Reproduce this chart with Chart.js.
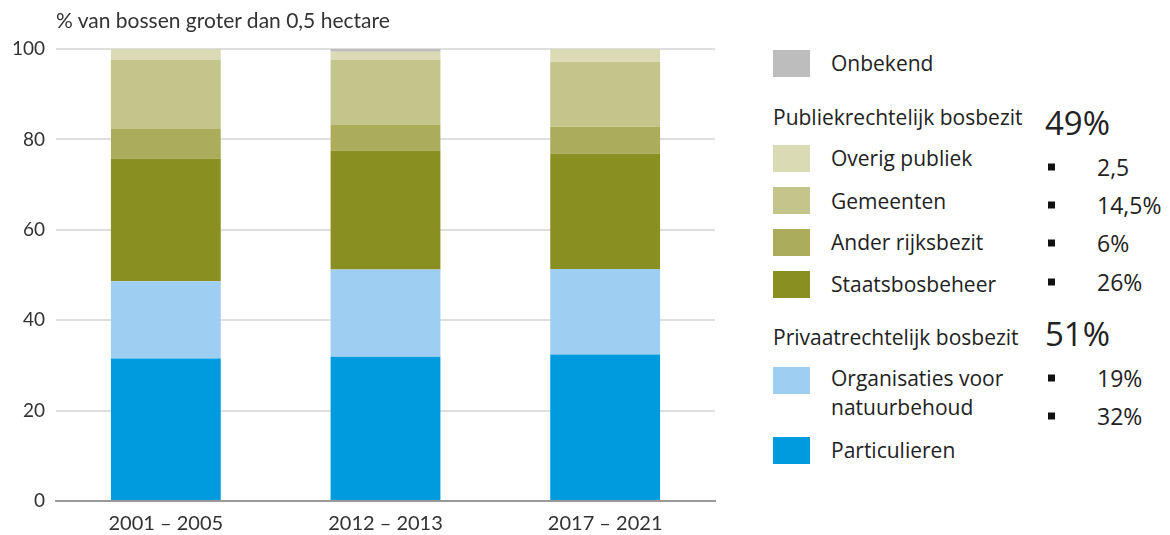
<!DOCTYPE html>
<html lang="nl">
<head>
<meta charset="utf-8">
<title>Bosbezit naar eigenaar</title>
<script src="https://cdn.jsdelivr.net/npm/chart.js@4.4.0/dist/chart.umd.min.js"></script>
<style>
  body { margin: 0; background: #fff; }
  #wrap { position: relative; width: 1170px; height: 535px; color: #222; font-family: "Open Sans", sans-serif; }
  #chartBox { position: absolute; left: 0; top: 0; width: 730px; height: 535px; }
  #titel { position: absolute; left: 56px; top: 19px; transform: translateY(-50%); font-family: Lato, sans-serif; font-size: 21px; color: #333; white-space: nowrap; }
  .sw { position: absolute; left: 773px; width: 37px; height: 27px; }
  .t { position: absolute; transform: translateY(-50%); font-size: 21px; line-height: 29px; white-space: nowrap; }
  .v { font-size: 23px; }
  .tot { position: absolute; left: 1045px; transform: translateY(-50%); font-size: 33px; white-space: nowrap; }
  .dot { position: absolute; left: 1048px; width: 7px; height: 7px; background: #111; transform: translateY(-50%); }
</style>
</head>
<body>
<div id="wrap">
  <div id="chartBox"><canvas id="bosChart" width="730" height="535"></canvas></div>
  <div id="titel">% van bossen groter dan 0,5 hectare</div>
  <div id="legend"></div>
</div>

<script>
// perioden
var categories = ['2001 – 2005', '2012 – 2013', '2017 – 2021'];

// aandeel per eigenaar (%), van onder naar boven gestapeld
var particulieren  = [31.5, 31.9, 32.4];
var organisaties   = [17.1, 19.3, 18.9];
var staatsbos      = [27.2, 26.3, 25.6];
var anderRijk      = [6.5, 5.8, 5.9];
var gemeenten      = [15.3, 14.3, 14.4];
var overigPubliek  = [2.4, 1.8, 2.8];
var onbekend       = [0, 0.6, 0];

var yTicks = [0, 20, 40, 60, 80, 100];

// legenda-teksten
var groupTotals = ['49%', '51%'];
var shareLabels = ['2,5', '14,5%', '6%', '26%', '19%', '32%'];

var colors = {
  onbekend: '#bdbdbd',
  overig: '#dadbb5',
  gemeenten: '#c4c58a',
  ander: '#acad5b',
  staats: '#8a8f22',
  organisaties: '#9ecef2',
  particulieren: '#009bdf'
};

var datasets = [
  { label: 'Particulieren', data: particulieren, backgroundColor: colors.particulieren },
  { label: 'Organisaties voor natuurbehoud', data: organisaties, backgroundColor: colors.organisaties },
  { label: 'Staatsbosbeheer', data: staatsbos, backgroundColor: colors.staats },
  { label: 'Ander rijksbezit', data: anderRijk, backgroundColor: colors.ander },
  { label: 'Gemeenten', data: gemeenten, backgroundColor: colors.gemeenten },
  { label: 'Overig publiek', data: overigPubliek, backgroundColor: colors.overig },
  { label: 'Onbekend', data: onbekend, backgroundColor: colors.onbekend }
];
datasets.forEach(function (d) {
  d.borderWidth = 0;
  d.categoryPercentage = 1;
  d.barPercentage = 0.5;
});

new Chart(document.getElementById('bosChart'), {
  type: 'bar',
  data: { labels: categories, datasets: datasets },
  options: {
    responsive: false,
    animation: false,
    devicePixelRatio: 1,
    layout: { padding: { top: 49, right: 15, left: 0, bottom: 0 } },
    plugins: { legend: { display: false }, tooltip: { enabled: false } },
    scales: {
      x: {
        stacked: true,
        grid: { display: false, drawTicks: false },
        border: { display: true, color: '#9a9a9a', width: 2 },
        ticks: { color: '#333', font: { family: 'Lato', size: 20 }, padding: 11 },
        afterFit: function (s) { s.height = 34; }
      },
      y: {
        stacked: true,
        min: 0,
        max: 100,
        afterBuildTicks: function (s) { s.ticks = yTicks.map(function (v) { return { value: v }; }); },
        grid: {
          drawTicks: false,
          lineWidth: 2,
          color: function (c) { return c.tick && c.tick.value === 0 ? 'rgba(0,0,0,0)' : '#dedede'; }
        },
        border: { display: false },
        ticks: { color: '#333', font: { family: 'Lato', size: 19 }, padding: 11 },
        afterFit: function (s) { s.width = 56; }
      }
    }
  }
});

// legenda rechts, opgebouwd uit de reekskleuren en labels
var legend = document.getElementById('legend');
function add(cls, text, styles) {
  var el = document.createElement('div');
  el.className = cls;
  if (text) el.innerHTML = text;
  for (var k in styles) el.style[k] = styles[k];
  legend.appendChild(el);
}
function swatch(color, top) { add('sw', '', { top: top + 'px', background: color }); }
function label(text, left, mid, extra) { add('t' + (extra ? ' ' + extra : ''), text, { left: left + 'px', top: mid + 'px' }); }
function share(text, mid) {
  add('dot', '', { top: mid + 'px' });
  label(text, 1097, mid, 'v');
}

swatch(colors.onbekend, 50); label('Onbekend', 831, 63);

label('Publiekrechtelijk bosbezit', 773, 117);
add('tot', groupTotals[0], { top: '122px' });
swatch(colors.overig, 145); label('Overig publiek', 831, 158); share(shareLabels[0], 167);
swatch(colors.gemeenten, 187); label('Gemeenten', 831, 201); share(shareLabels[1], 205);
swatch(colors.ander, 229); label('Ander rijksbezit', 831, 242); share(shareLabels[2], 243);
swatch(colors.staats, 271); label('Staatsbosbeheer', 831, 284); share(shareLabels[3], 282);

label('Privaatrechtelijk bosbezit', 773, 337);
add('tot', groupTotals[1], { top: '333px' });
swatch(colors.organisaties, 367); label('Organisaties voor<br>natuurbehoud', 831, 393); share(shareLabels[4], 378);
share(shareLabels[5], 416);
swatch(colors.particulieren, 437); label('Particulieren', 831, 450);
</script>
</body>
</html>
